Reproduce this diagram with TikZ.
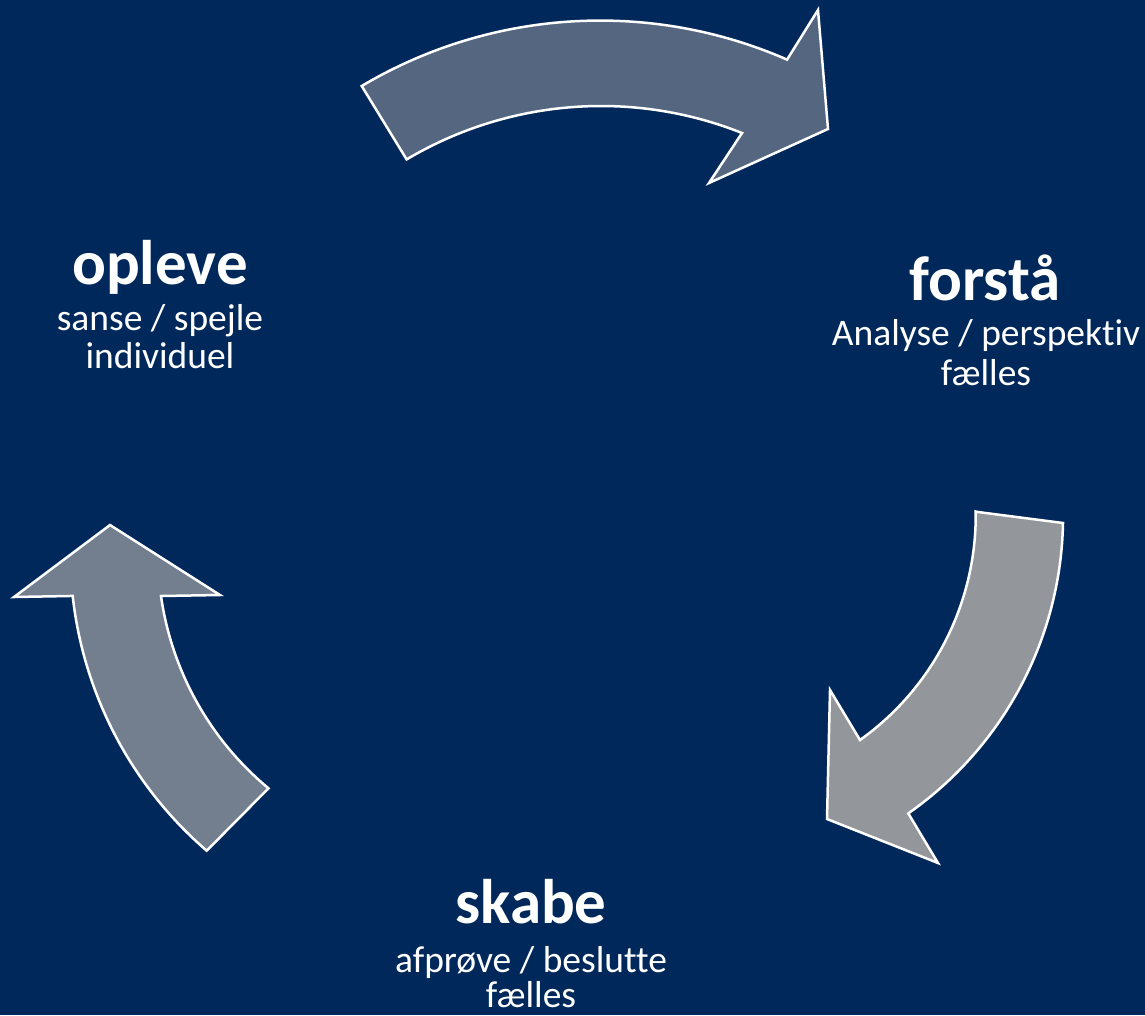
\documentclass[tikz,border=0pt]{standalone}
\usepackage{fontspec}
\setmainfont{Carlito}[Ligatures=NoCommon]
\definecolor{bg}{RGB}{0,40,90}
\definecolor{arrowA}{RGB}{84,102,128}
\definecolor{arrowB}{RGB}{147,150,154}
\definecolor{arrowC}{RGB}{115,126,142}
\begin{document}
\begin{tikzpicture}[x=1pt,y=-1pt,
  cyclearrow/.style={draw=white,line width=2.5pt,line join=miter},
  titletext/.style={text=white,font=\fontsize{63}{63}\selectfont\bfseries,anchor=base,inner sep=0pt},
  subtext/.style={text=white,font=\fontsize{37.5}{39}\selectfont,anchor=base,inner sep=0pt}]
\fill[bg] (0,0) rectangle (1145,1015);
\useasboundingbox (0,0) rectangle (1145,1015);

% top arrow
\filldraw[cyclearrow,fill=arrowA] (361.7,86) arc[start angle=-120.7,end angle=-66.4,radius=467]
  -- (818,10) -- (828,129) -- (709,183) -- (742,133)
  arc[start angle=-68.3,end angle=-120.7,radius=381] -- cycle;

% right arrow
\filldraw[cyclearrow,fill=arrowB] (978,512) -- (1063,523)
  arc[start angle=1.1,end angle=55,radius=363]
  -- (938,863) -- (827,819) -- (830,690) -- (860,740)
  arc[start angle=54.5,end angle=-0.8,radius=276] -- cycle;

% left arrow
\filldraw[cyclearrow,fill=arrowC] (110,525) -- (220,595) -- (161,596)
  arc[start angle=171.9,end angle=129.7,radius=306]
  -- (206.7,850.7)
  arc[start angle=130.8,end angle=173.7,radius=393.6]
  -- (14,597) -- cycle;

\node[titletext] (opleve) at (160,284) {opleve};
\node[subtext] (opleveA) at (160,330) {sanse / spejle};
\node[subtext] (opleveB) at (160,368) {individuel};
\node[titletext] (forsta) at (985,300) {forstå};
\node[subtext] (forstaA) at (986,345) {Analyse / perspektiv};
\node[subtext] (forstaB) at (986,385) {fælles};
\node[titletext] (skabe) at (531,923) {skabe};
\node[subtext] (skabeA) at (531,972) {afprøve / beslutte};
\node[subtext] (skabeB) at (531,1007) {fælles};
\end{tikzpicture}
\end{document}
